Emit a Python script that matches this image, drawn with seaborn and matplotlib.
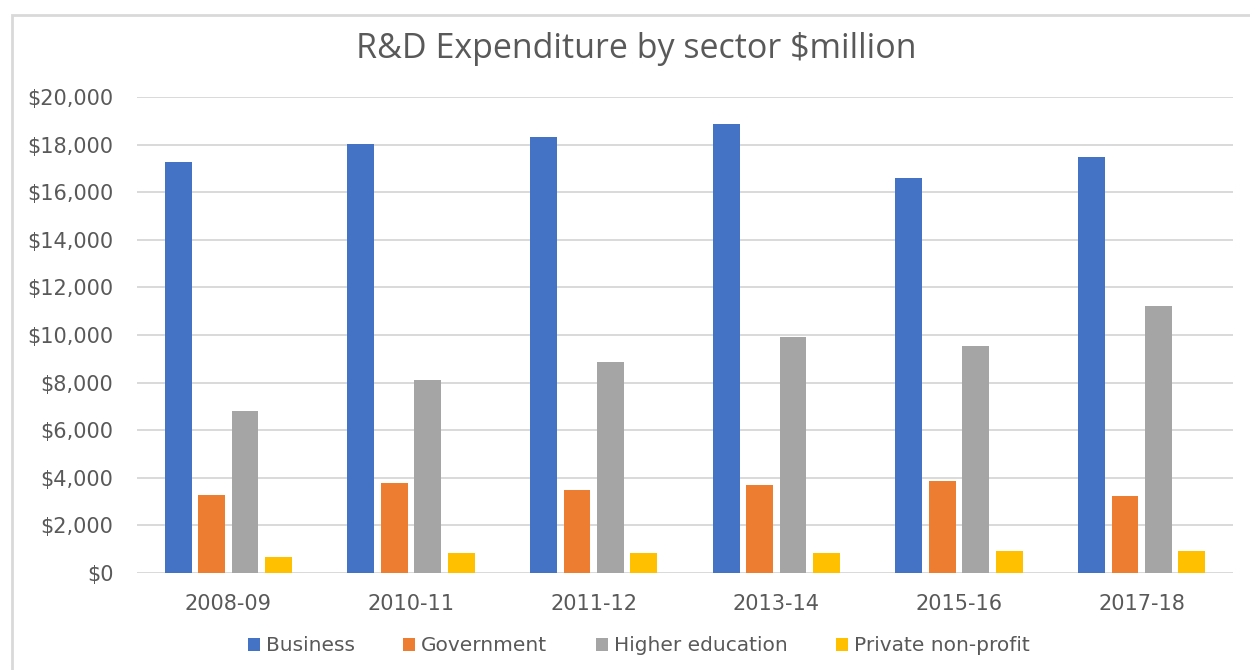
import matplotlib
matplotlib.use("Agg")
import matplotlib.pyplot as plt
from matplotlib.patches import Rectangle
from matplotlib.ticker import FuncFormatter
import pandas as pd
import seaborn as sns

# data ($million)
years = ["2008-09", "2010-11", "2011-12", "2013-14", "2015-16", "2017-18"]
sectors = ["Business", "Government", "Higher education", "Private non-profit"]
business = [17260, 18010, 18300, 18860, 16600, 17460]
government = [3290, 3770, 3500, 3680, 3880, 3220]
higher_ed = [6790, 8100, 8860, 9910, 9530, 11230]
private_np = [660, 840, 840, 840, 940, 940]

colours = ["#4472C4", "#ED7D31", "#A5A5A5", "#FFC000"]

rows = []
for name, vals in zip(sectors, [business, government, higher_ed, private_np]):
    for yr, v in zip(years, vals):
        rows.append({"year": yr, "sector": name, "value": v})
df = pd.DataFrame(rows)

sns.set_theme(style="white")
plt.rcParams["font.family"] = ["DejaVu Sans"]
text_col = "#595959"

fig = plt.figure(figsize=(12.5, 6.7), dpi=100)
ax = fig.add_axes([0.1096, 0.1448, 0.8768, 0.7104])

sns.barplot(data=df, x="year", y="value", hue="sector", order=years,
            hue_order=sectors, palette=colours, width=0.732, gap=0.2,
            saturation=1, errorbar=None, legend=True, linewidth=0, ax=ax)

ax.set_ylim(0, 20000)
ax.set_xlim(-0.5, 5.5)
ax.set_yticks(range(0, 20001, 2000))
ax.yaxis.set_major_formatter(FuncFormatter(lambda v, p: f"${v:,.0f}"))
ax.grid(axis="y", color="#D9D9D9", linewidth=1.4)
ax.set_axisbelow(True)
for s in ax.spines.values():
    s.set_visible(False)
ax.set_xlabel("")
ax.set_ylabel("")
ax.tick_params(axis="y", length=0, pad=17, labelsize=15, labelcolor=text_col)
ax.tick_params(axis="x", length=0, pad=15, labelsize=15, labelcolor=text_col)

handles, labels = ax.get_legend_handles_labels()
ax.legend_.remove()
fig.legend(handles, labels, loc="center", bbox_to_anchor=(0.511, 0.036),
           ncol=4, frameon=False, fontsize=14.5, labelcolor=text_col,
           handlelength=0.6, handleheight=0.6, handletextpad=0.3,
           columnspacing=2.4)

fig.text(0.509, 0.927, "R&D Expenditure by sector $million", ha="center",
         va="center", fontsize=24.5, color=text_col, family=["Open Sans", "DejaVu Sans"])

# light frame of the chart area
fig.patches.append(Rectangle((12 / 1250, -0.05), 1.1, 1 - 15 / 670 + 0.05,
                             transform=fig.transFigure, fill=False,
                             edgecolor="#D9D9D9", linewidth=2))

fig.savefig("out.png", dpi=100, facecolor="white")
